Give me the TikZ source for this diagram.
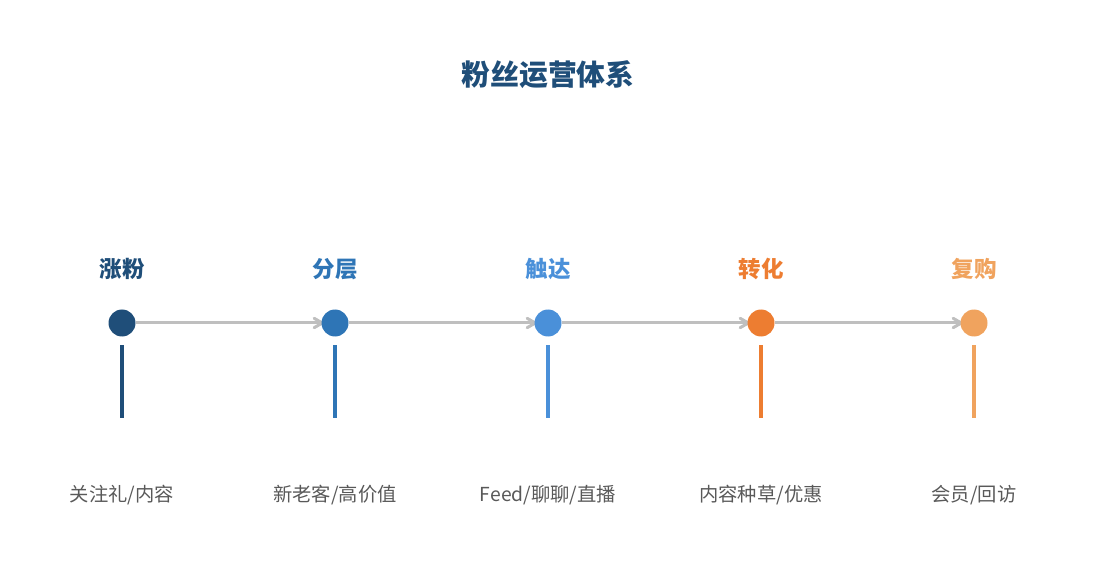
\documentclass[tikz,border=0pt]{standalone}
\usepackage{fontspec}
\setmainfont{Noto Sans CJK SC}
\usetikzlibrary{arrows, backgrounds}

\definecolor{cA}{HTML}{1F4E79}
\definecolor{cB}{HTML}{2E75B6}
\definecolor{cC}{HTML}{4A90D9}
\definecolor{cD}{HTML}{ED7D31}
\definecolor{cE}{HTML}{F0A35E}
\definecolor{arrowgray}{HTML}{BFBFBF}
\definecolor{textgray}{HTML}{595959}

\tikzset{
	dot/.style={circle, minimum size=27pt, inner sep=0pt},
	stem/.style={rectangle, minimum width=4pt, minimum height=73pt, inner sep=0pt},
	stage/.style={font=\fontsize{22.5}{26}\selectfont\bfseries},
	note/.style={font=\fontsize{19.3}{23}\selectfont, text=textgray}
}

\begin{document}
\begin{tikzpicture}[x=1pt, y=-1pt, ->, >=angle 60]
		\useasboundingbox (0, 0) rectangle (1095, 585);
		\node[font=\fontsize{28.8}{33}\selectfont\bfseries, text=cA] (title) at (548, 75) {粉丝运营体系};
		
		\node[dot, fill=cA] (1) at (122, 323) {};
		\node[dot, fill=cB] (2) at (335, 323) {};
		\node[dot, fill=cC] (3) at (548, 323) {};
		\node[dot, fill=cD] (4) at (761, 323) {};
		\node[dot, fill=cE] (5) at (974, 323) {};
		
		\node[stage, text=cA] (l1) at (122, 269) {涨粉};
		\node[stage, text=cB] (l2) at (335, 269) {分层};
		\node[stage, text=cC] (l3) at (548, 269) {触达};
		\node[stage, text=cD] (l4) at (761, 269) {转化};
		\node[stage, text=cE] (l5) at (974, 269) {复购};
		
		\node[stem, fill=cA] (s1) at (122, 381.5) {};
		\node[stem, fill=cB] (s2) at (335, 381.5) {};
		\node[stem, fill=cC] (s3) at (548, 381.5) {};
		\node[stem, fill=cD] (s4) at (761, 381.5) {};
		\node[stem, fill=cE] (s5) at (974, 381.5) {};
		
		\node[note] (n1) at (122, 495) {关注礼/内容};
		\node[note] (n2) at (335, 495) {新老客/高价值};
		\node[note] (n3) at (548, 495) {Feed/聊聊/直播};
		\node[note] (n4) at (761, 495) {内容种草/优惠};
		\node[note] (n5) at (974, 495) {会员/回访};
		
		\begin{pgfonlayer}{background}
		\path[draw=arrowgray, line width=3pt, shorten >=-4pt] (1) edge (2)
			(2) edge (3)
			(3) edge (4)
			(4) edge (5);
		\end{pgfonlayer}
	\end{tikzpicture}
\end{document}
